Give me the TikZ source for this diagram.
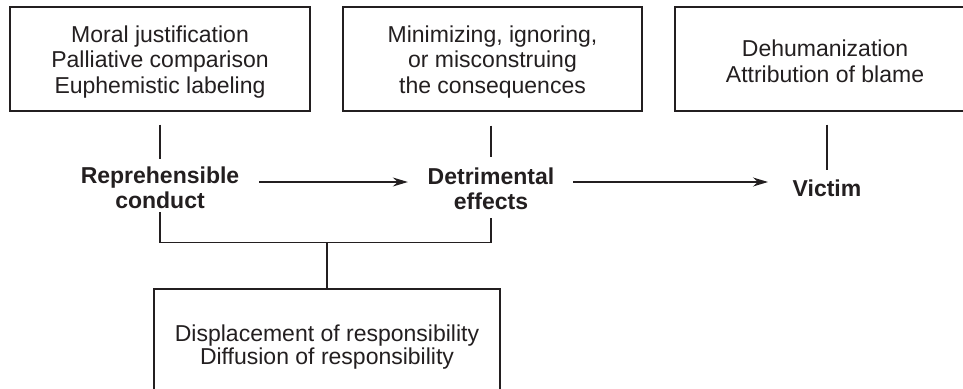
\documentclass[tikz,border=0pt]{standalone}
\usepackage{fontspec}
\setmainfont{Liberation Sans}
\usetikzlibrary{calc,arrows.meta}
\definecolor{ink}{RGB}{35,31,32}
\newcommand{\lines}[1]{\begin{tabular}{@{}c@{}}#1\end{tabular}}
\begin{document}
\begin{tikzpicture}[x=1pt,y=1pt,
  boxnode/.style={draw=ink,line width=1.3pt,text=ink,minimum height=104pt,inner sep=0pt,font=\fontsize{23}{25.5}\selectfont},
  keynode/.style={text=ink,inner sep=0pt,font=\fontsize{23}{25.5}\selectfont\bfseries},
  conn/.style={draw=ink,line width=1.3pt},
  arr/.style={conn,-{Stealth[length=15pt,width=9pt]}}
]
\clip (0,0) rectangle (963,-388);
\fill[white] (0,0) rectangle (963,-388);
% top boxes
\node[boxnode,minimum width=300pt] (b1) at (160,-59) {\lines{\rule{0pt}{25.25pt}Moral justification\\Palliative comparison\\Euphemistic labeling}};
\node[boxnode,minimum width=299pt] (b2) at (492.5,-59) {\lines{\rule{0pt}{25.25pt}Minimizing, ignoring,\\or misconstruing\\the consequences}};
\node[boxnode,minimum width=300pt] (b3) at (825,-59) {\lines{\rule{0pt}{28.5pt}Dehumanization\\Attribution of blame}};
% key terms
\node[keynode] (rc) at (160,-190.65) {\lines{Reprehensible\\conduct}};
\node[keynode] (de) at (491,-191.65) {\lines{Detrimental\\effects}};
\node[keynode,anchor=base] (vi) at (827,-196) {Victim};
% bottom box
\node[boxnode,minimum width=346pt,minimum height=116pt,font=\fontsize{23}{21.5}\selectfont] (bb) at (327,-347) {\lines{\rule{0pt}{17.95pt}Displacement of responsibility\\Diffusion of responsibility}};
% vertical links from the top boxes
\draw[conn] ($(b1.south -| rc.north)+(0,-13)$) -- ($(rc.north)+(0,6.2)$);
\draw[conn] ($(b2.south -| de.north)+(0,-14)$) -- ($(de.north)+(0,9.2)$);
\draw[conn] ($(b3.south -| vi.north)+(0,-13)$) -- ($(vi.north)+(0,9.5)$);
% arrows
\draw[arr] ($(rc.east)+(19.75,8.65)$) coordinate (a1) -- ($(de.west |- a1)+(-19.7,0)$);
\draw[arr] ($(de.east)+(18.7,9.65)$) coordinate (a2) -- ($(vi.west |- a2)+(-24.5,0)$);
% bracket
\draw[conn] ($(rc.south)+(0,4)$) -- ($(rc.south)+(0,-26)$) coordinate (bl) -| ($(de.south)+(0,-1)$);
\draw[conn] (bb.north) -- (bb.north |- bl);
\end{tikzpicture}
\end{document}
